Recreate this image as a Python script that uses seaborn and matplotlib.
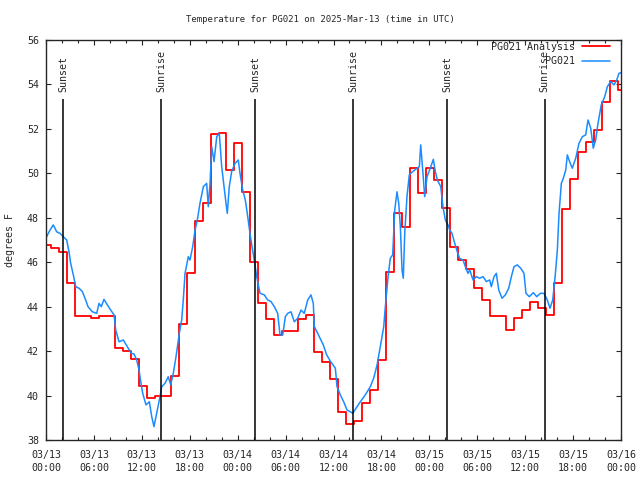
import pandas as pd
import seaborn as sns
import matplotlib
matplotlib.use("Agg")
import matplotlib.pyplot as plt
import matplotlib.dates as mdates

day0 = pd.Timestamp("2025-03-13 00:00")

# hourly analysis values, each one valid from hh:36
ana_start = "2025-03-12 23:36"
ana_temp = [46.78, 46.63, 46.45, 45.05, 43.57, 43.57, 43.5, 43.57, 43.57, 42.14,
            42.0, 41.63, 40.44, 39.88, 39.98, 39.98, 40.87, 43.21, 45.5, 47.87,
            48.65, 51.76, 51.8, 50.14, 51.35, 49.15, 46.0, 44.15, 43.43, 42.71,
            42.9, 42.9, 43.43, 43.63, 41.97, 41.52, 40.73, 39.25, 38.72, 38.84,
            39.65, 40.25, 41.6, 45.55, 48.2, 47.57, 50.23, 49.1, 50.26, 49.7,
            48.43, 46.7, 46.1, 45.68, 44.83, 44.3, 43.58, 43.58, 42.95, 43.48,
            43.85, 44.2, 43.93, 43.63, 45.05, 48.38, 49.75, 50.98, 51.4, 51.95,
            53.2, 54.17, 53.75]

# station obs, hours after 03/13 00:00 UTC
obs_hours = [0.09, 0.38, 0.91, 1.34, 1.75, 2.17, 2.59, 2.88, 3.09, 3.42,
             3.72, 4.13, 4.55, 4.97, 5.26, 5.80, 6.35, 6.64, 6.92, 7.26,
             7.68, 8.10, 8.52, 8.73, 9.14, 9.68, 10.18, 10.68, 11.02, 11.36,
             11.65, 11.83, 12.11, 12.52, 12.94, 13.24, 13.52, 13.86, 14.19, 14.49,
             14.90, 15.31, 15.61, 15.94, 16.28, 16.69, 16.99, 17.19, 17.41, 17.82,
             18.03, 18.37, 18.66, 18.95, 19.28, 19.70, 20.12, 20.32, 20.54, 20.75,
             21.04, 21.38, 21.70, 22.00, 22.29, 22.54, 22.70, 22.95, 23.25, 23.67,
             24.08, 24.29, 24.63, 24.96, 25.26, 25.54, 25.80, 26.08, 26.38, 26.63,
             26.80, 27.34, 27.76, 28.17, 28.59, 29.01, 29.30, 29.64, 29.97, 30.27,
             30.68, 31.09, 31.52, 31.93, 32.34, 32.77, 33.18, 33.47, 33.60, 34.02,
             34.72, 35.15, 35.65, 35.81, 36.23, 36.44, 36.85, 37.28, 37.69, 38.11,
             38.41, 38.82, 39.36, 39.98, 40.61, 41.03, 41.45, 41.86, 42.29, 42.49,
             42.83, 43.11, 43.41, 43.67, 43.95, 44.17, 44.37, 44.58, 44.74, 44.92,
             45.20, 45.49, 45.92, 46.46, 46.75, 46.92, 47.17, 47.42, 47.71, 48.12,
             48.50, 48.75, 49.00, 49.43, 49.71, 50.00, 50.34, 50.55, 50.84, 51.18,
             51.50, 51.80, 52.22, 52.51, 52.84, 53.06, 53.47, 53.88, 54.31, 54.72,
             55.14, 55.56, 55.76, 56.10, 56.39, 56.69, 57.10, 57.52, 57.94, 58.27,
             58.60, 59.02, 59.44, 59.85, 60.10, 60.52, 61.02, 61.45, 61.90, 62.36,
             62.77, 63.11, 63.45, 63.74, 64.03, 64.24, 64.53, 64.78, 65.08, 65.28,
             65.49, 65.90, 66.33, 66.74, 67.16, 67.58, 67.87, 68.21, 68.53, 68.83,
             69.12, 69.53, 69.96, 70.29, 70.71, 71.12, 71.46, 71.75, 72.0]
obs_temp = [47.15, 47.37, 47.68, 47.37, 47.3, 47.15, 47.0, 46.47, 45.95, 45.43,
            44.9, 44.83, 44.68, 44.3, 44.0, 43.77, 43.7, 44.15, 44.0, 44.33,
            44.08, 43.85, 43.63, 42.95, 42.42, 42.5, 42.2, 41.9, 41.87, 41.6,
            41.15, 40.7, 40.1, 39.58, 39.72, 39.05, 38.6, 39.2, 39.8, 40.4,
            40.55, 40.85, 40.48, 41.0, 41.75, 42.8, 43.4, 44.3, 45.5, 46.25,
            46.1, 46.7, 47.45, 47.9, 48.65, 49.4, 49.55, 48.5, 49.55, 51.2,
            50.53, 51.65, 51.8, 50.3, 49.4, 48.65, 48.2, 49.4, 50.08, 50.45,
            50.6, 50.0, 49.25, 48.8, 48.05, 47.3, 46.7, 46.1, 45.35, 44.9,
            44.6, 44.53, 44.3, 44.23, 44.0, 43.7, 42.73, 42.73, 43.55, 43.7,
            43.77, 43.32, 43.48, 43.85, 43.7, 44.3, 44.53, 44.15, 43.1, 42.8,
            42.28, 41.83, 41.52, 41.45, 41.23, 40.4, 40.03, 39.72, 39.35, 39.27,
            39.2, 39.43, 39.72, 40.03, 40.4, 40.78, 41.37, 42.2, 43.1, 44.0,
            45.35, 46.17, 46.33, 48.35, 49.17, 48.65, 47.6, 45.65, 45.28, 47.3,
            48.95, 49.93, 50.08, 50.23, 50.3, 51.28, 50.15, 48.95, 49.85, 50.23,
            50.63, 50.08, 49.7, 49.4, 48.5, 47.9, 47.68, 47.45, 47.3, 46.85,
            46.47, 46.17, 46.1, 45.8, 45.5, 45.65, 45.2, 45.35, 45.28, 45.35,
            45.13, 45.2, 44.9, 45.35, 45.5, 44.75, 44.38, 44.53, 44.83, 45.35,
            45.8, 45.88, 45.73, 45.5, 44.6, 44.45, 44.63, 44.45, 44.6, 44.6,
            44.3, 43.93, 44.3, 45.3, 46.55, 48.2, 49.55, 49.78, 50.15, 50.83,
            50.6, 50.23, 50.68, 51.35, 51.65, 51.73, 52.4, 52.03, 51.13, 51.5,
            52.25, 53.08, 53.45, 53.9, 54.13, 53.98, 54.2, 54.5, 54.53]

sun_labels = ["Sunset", "Sunrise", "Sunset", "Sunrise", "Sunset", "Sunrise"]
sun_times = ["2025-03-13 02:08", "2025-03-13 14:26", "2025-03-14 02:12",
             "2025-03-14 14:29", "2025-03-15 02:15", "2025-03-15 14:27"]

ana_time = pd.date_range(ana_start, periods=len(ana_temp), freq="h")
ana = pd.DataFrame({"time": ana_time, "temp": ana_temp})
# repeat the last value an hour on so the final step gets drawn
ana = pd.concat([ana, pd.DataFrame({"time": [ana_time[-1] + pd.Timedelta(hours=1)],
                                    "temp": [ana_temp[-1]]})], ignore_index=True)
obs = pd.DataFrame({"time": day0 + pd.to_timedelta(obs_hours, unit="h"), "temp": obs_temp})

sns.set_style("ticks", {"xtick.direction": "in", "ytick.direction": "in"})
plt.rcParams["font.family"] = ["DejaVu Sans Mono"]
fs = 7.2

fig = plt.figure(figsize=(6.4, 4.8), dpi=100)
ax = fig.add_axes([46 / 640, 40 / 480, 575 / 640, 400 / 480])

sns.lineplot(data=ana, x="time", y="temp", color="#ff0000", lw=1.3, drawstyle="steps-post",
             estimator=None, sort=False, label="PG021 Analysis", ax=ax)
sns.lineplot(data=obs, x="time", y="temp", color="#1a8cff", lw=1.1,
             estimator=None, sort=False, label="PG021", ax=ax)

line_top = 53.35
for lbl, t in zip(sun_labels, sun_times):
    t = pd.Timestamp(t)
    ax.vlines(t, 38, line_top, color="black", lw=1.1)
    ax.text(t, line_top + 0.3, lbl, rotation=90, ha="center", va="bottom", fontsize=fs)

ax.set_xlim(day0, day0 + pd.Timedelta(days=3))
ax.set_ylim(38, 56)
ax.set_yticks(range(38, 57, 2))
ax.xaxis.set_major_locator(mdates.HourLocator(byhour=[0, 6, 12, 18]))
ax.xaxis.set_minor_locator(mdates.HourLocator(interval=2))
ax.xaxis.set_major_formatter(mdates.DateFormatter("%m/%d\n%H:%M"))
ax.tick_params(which="both", direction="in", top=True, right=True, labelsize=fs, width=0.8)
ax.tick_params(which="major", length=3.5)
ax.tick_params(which="minor", length=2.5)
ax.tick_params(axis="x", pad=7)
ax.tick_params(axis="y", pad=5)
for lbl in ax.get_xticklabels():
    lbl.set_linespacing(1.35)
for s in ax.spines.values():
    s.set_linewidth(1.0)
ax.set_xlabel("")
ax.set_ylabel("")

fig.text(0.5, 1 - 19 / 480, "Temperature for PG021 on 2025-Mar-13 (time in UTC)",
         ha="center", va="center", fontsize=6.5)
fig.text(10 / 640, 0.5, "degrees F", rotation=90, ha="center", va="center", fontsize=fs)

ax.legend(loc="upper right", bbox_to_anchor=(564 / 575, 0.995), frameon=False,
          markerfirst=False, fontsize=fs, handlelength=2.8, handletextpad=0.7,
          borderaxespad=0, borderpad=0, labelspacing=0.45)

fig.savefig("out.png", dpi=100)
